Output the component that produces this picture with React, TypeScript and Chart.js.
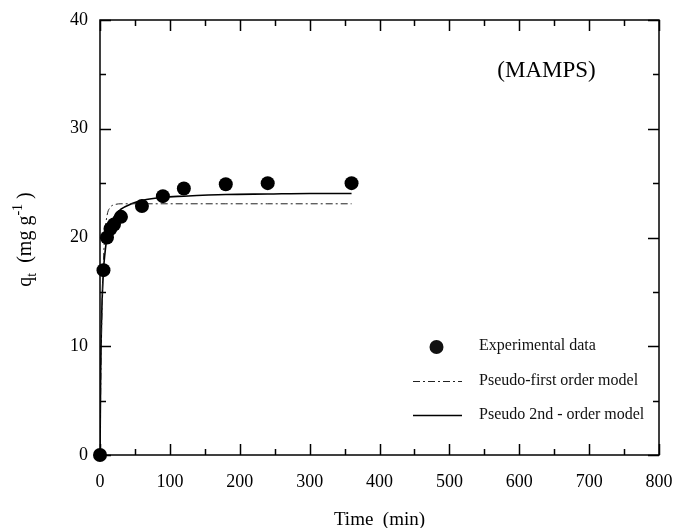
import React, { useEffect, useRef } from "react";
import { Chart, registerables } from "chart.js";

Chart.register(...registerables);

// Experimental data
const expTime = [0, 5, 10, 15, 20, 30, 60, 90, 120, 180, 240, 360];
const expQ = [0, 17.0, 20.0, 20.8, 21.2, 21.9, 22.9, 23.8, 24.5, 24.9, 25.0, 25.0];

// Model curves
const modelTime = [0, 1, 2, 3, 5, 7, 10, 15, 20, 30, 45, 60, 90, 120, 180, 240, 300, 360];
const pfoQ = [0, 6.0, 10.4, 13.7, 18.0, 20.3, 22.0, 22.8, 23.0, 23.1, 23.1, 23.1, 23.1, 23.1, 23.1, 23.1, 23.1, 23.1];
const psoQ = [0, 7.7, 11.8, 14.2, 17.0, 18.5, 20.0, 21.2, 21.9, 22.6, 23.1, 23.4, 23.7, 23.8, 23.95, 24.0, 24.05, 24.05];

const xTicks = [0, 100, 200, 300, 400, 500, 600, 700, 800];
const yTicks = [0, 10, 20, 30, 40];

const seriesLabels = ["Experimental data", "Pseudo-first order model", "Pseudo 2nd - order model"];
const panelLabel = "(MAMPS)";
const xTitle = "Time  (min)";

const SERIF = "'Liberation Serif', 'Times New Roman', serif";

const framePlugin = {
  id: "frame",
  afterDraw(chart: any) {
    const { ctx, chartArea: a, scales } = chart;
    const xs = scales.x;
    const ys = scales.y;
    ctx.save();
    ctx.strokeStyle = "#000";
    ctx.lineWidth = 1.5;
    ctx.strokeRect(a.left, a.top, a.right - a.left, a.bottom - a.top);
    // x ticks (top & bottom, inside)
    for (let v = xs.min; v <= xs.max; v += 50) {
      const major = v % 100 === 0;
      const len = major ? 11 : 6;
      const px = Math.round(xs.getPixelForValue(v)) + 0.5;
      ctx.beginPath();
      ctx.moveTo(px, a.bottom);
      ctx.lineTo(px, a.bottom - len);
      ctx.moveTo(px, a.top);
      ctx.lineTo(px, a.top + len);
      ctx.stroke();
    }
    for (let v = ys.min; v <= ys.max; v += 5) {
      const major = v % 10 === 0;
      const len = major ? 11 : 6;
      const py = Math.round(ys.getPixelForValue(v)) + 0.5;
      ctx.beginPath();
      ctx.moveTo(a.left, py);
      ctx.lineTo(a.left + len, py);
      ctx.moveTo(a.right, py);
      ctx.lineTo(a.right - len, py);
      ctx.stroke();
    }

    // y axis title with subscript / superscript
    ctx.fillStyle = "#000";
    ctx.textBaseline = "alphabetic";
    const big = `20px ${SERIF}`;
    const small = `14px ${SERIF}`;
    const parts = [
      { t: "q", f: big, dy: 0 },
      { t: "t", f: small, dy: 5 },
      { t: "  (mg g", f: big, dy: 0 },
      { t: "-1", f: small, dy: -9 },
      { t: " )", f: big, dy: 0 },
    ];
    let total = 0;
    const widths = parts.map((p) => {
      ctx.font = p.f;
      const w = ctx.measureText(p.t).width;
      total += w;
      return w;
    });
    ctx.translate(31, (a.top + a.bottom) / 2 + 2);
    ctx.rotate(-Math.PI / 2);
    let cx = -total / 2;
    parts.forEach((p, i) => {
      ctx.font = p.f;
      ctx.fillText(p.t, cx, p.dy);
      cx += widths[i];
    });
    ctx.restore();

    // panel label
    ctx.save();
    ctx.fillStyle = "#000";
    ctx.font = `23px ${SERIF}`;
    ctx.textAlign = "center";
    ctx.textBaseline = "middle";
    ctx.fillText(panelLabel, xs.getPixelForValue(639), ys.getPixelForValue(35.3));
    ctx.restore();

    // legend
    ctx.save();
    const ds = chart.data.datasets;
    const lx0 = a.left + 313;
    const lx1 = a.left + 362;
    const tx = a.left + 379;
    const rows = [a.top + 326, a.top + 361, a.top + 395];
    ctx.font = `16px ${SERIF}`;
    ctx.textBaseline = "middle";
    ctx.fillStyle = "#111";
    ctx.beginPath();
    ctx.arc((lx0 + lx1) / 2 - 1, rows[0] + 1, ds[0].pointRadius, 0, Math.PI * 2);
    ctx.fill();
    for (let i = 1; i < 3; i++) {
      ctx.strokeStyle = ds[i].borderColor;
      ctx.lineWidth = ds[i].borderWidth;
      ctx.setLineDash(ds[i].borderDash || []);
      ctx.beginPath();
      ctx.moveTo(lx0, rows[i] + 0.5);
      ctx.lineTo(lx1, rows[i] + 0.5);
      ctx.stroke();
    }
    ctx.setLineDash([]);
    for (let i = 0; i < 3; i++) ctx.fillText(ds[i].label, tx, rows[i]);
    ctx.restore();
  },
};

export default function App() {
  const ref = useRef<HTMLCanvasElement>(null);
  useEffect(() => {
    document.body.style.margin = "0";
    const canvas = ref.current!;
    const chart = new Chart(canvas, {
      type: "scatter",
      data: {
        datasets: [
          {
            label: seriesLabels[0],
            data: expTime.map((t, i) => ({ x: t, y: expQ[i] })),
            pointRadius: 7,
            pointBackgroundColor: "#000",
            pointBorderColor: "#000",
            pointBorderWidth: 0,
            showLine: false,
            clip: false,
          } as any,
          {
            label: seriesLabels[1],
            data: modelTime.map((t, i) => ({ x: t, y: pfoQ[i] })),
            showLine: true,
            pointRadius: 0,
            borderColor: "#222",
            borderWidth: 1,
            borderDash: [7, 3, 2, 3],
            cubicInterpolationMode: "monotone",
          } as any,
          {
            label: seriesLabels[2],
            data: modelTime.map((t, i) => ({ x: t, y: psoQ[i] })),
            showLine: true,
            pointRadius: 0,
            borderColor: "#000",
            borderWidth: 1.6,
            cubicInterpolationMode: "monotone",
          } as any,
        ],
      },
      options: {
        animation: false,
        responsive: false,
        events: [],
        layout: { padding: { top: 20, right: 15, left: 0, bottom: 0 } },
        plugins: { legend: { display: false }, tooltip: { enabled: false } },
        scales: {
          x: {
            type: "linear",
            min: 0,
            max: 800,
            afterFit: (s: any) => {
              s.height = 73;
              s.paddingLeft = 0;
              s.paddingRight = 0;
            },
            afterBuildTicks: (s: any) => {
              s.ticks = xTicks.map((v) => ({ value: v }));
            },
            ticks: {
              color: "#000",
              font: { family: SERIF, size: 18 },
              padding: 16,
              maxRotation: 0,
              autoSkip: false,
            },
            grid: { display: false, drawTicks: false, tickLength: 0 },
            border: { display: false },
            title: {
              display: true,
              text: xTitle,
              color: "#000",
              font: { family: SERIF, size: 19, lineHeight: 1 },
              padding: { top: 0, bottom: -2 },
            },
          },
          y: {
            type: "linear",
            min: 0,
            max: 40,
            afterFit: (s: any) => {
              s.width = 100;
              s.paddingTop = 0;
              s.paddingBottom = 0;
            },
            afterBuildTicks: (s: any) => {
              s.ticks = yTicks.map((v) => ({ value: v }));
            },
            ticks: {
              color: "#000",
              font: { family: SERIF, size: 18 },
              padding: 12,
              autoSkip: false,
            },
            grid: { display: false, drawTicks: false, tickLength: 0 },
            border: { display: false },
          },
        },
      },
      plugins: [framePlugin],
    });
    return () => chart.destroy();
  }, []);
  return (
    <div style={{ width: 674, height: 528, background: "#fff" }}>
      <canvas ref={ref} width={674} height={528} style={{ display: "block" }} />
    </div>
  );
}
